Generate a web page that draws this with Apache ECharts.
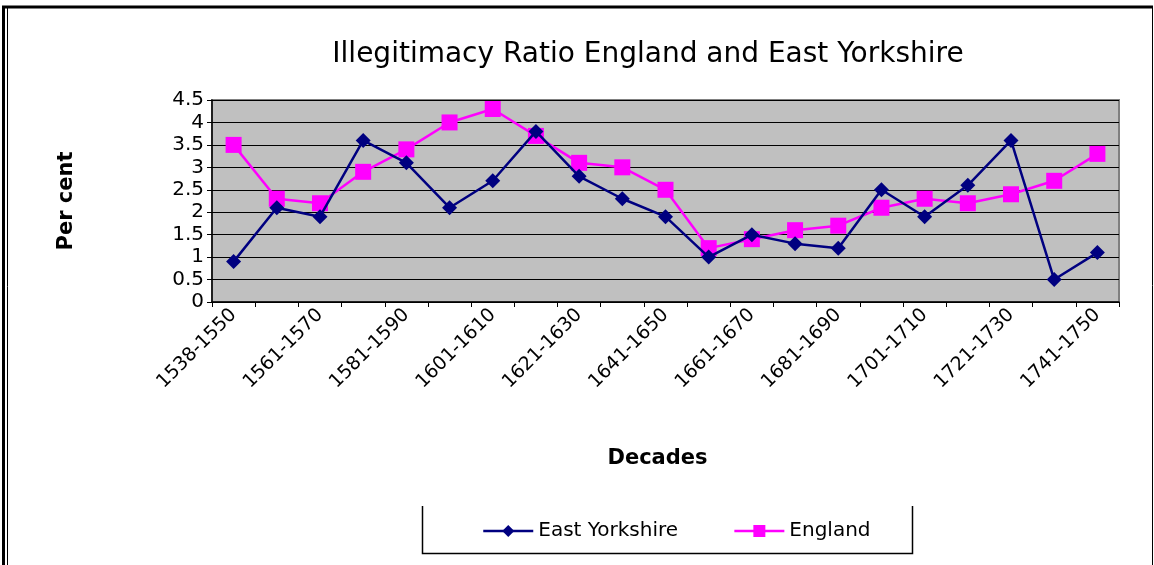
<!DOCTYPE html>
<html>
<head>
<meta charset="utf-8">
<script src="https://cdn.jsdelivr.net/npm/echarts@6/dist/echarts.min.js"></script>
<style>
  html, body { margin: 0; padding: 0; background: #fff; }
  #chart { width: 1154px; height: 565px; }
</style>
</head>
<body>
<div id="chart"></div>
<script>
const DECADES = [
    "1538-1550", "1551-1560", "1561-1570", "1571-1580", "1581-1590", "1591-1600",
    "1601-1610", "1611-1620", "1621-1630", "1631-1640", "1641-1650", "1651-1660",
    "1661-1670", "1671-1680", "1681-1690", "1691-1700", "1701-1710", "1711-1720",
    "1721-1730", "1731-1740", "1741-1750",
];
const EAST_YORKSHIRE = [0.9, 2.1, 1.9, 3.6, 3.1, 2.1, 2.7, 3.8, 2.8, 2.3, 1.9, 1.0, 1.5, 1.3, 1.2, 2.5, 1.9, 2.6, 3.6, 0.5, 1.1];
const ENGLAND = [3.5, 2.3, 2.2, 2.9, 3.4, 4.0, 4.3, 3.7, 3.1, 3.0, 2.5, 1.2, 1.4, 1.6, 1.7, 2.1, 2.3, 2.2, 2.4, 2.7, 3.3];

const FONT = "DejaVu Sans";
const chart = echarts.init(document.getElementById("chart"));

chart.setOption({
    backgroundColor: "#fff",
    animation: false,
    textStyle: { fontFamily: FONT, color: "#000" },
    title: {
        text: "Illegitimacy Ratio England and East Yorkshire",
        left: 643,
        top: 36,
        textAlign: "center",
        textStyle: { fontFamily: FONT, fontSize: 28, fontWeight: "normal", color: "#000" },
    },
    legend: {
        left: 477,
        top: 516,
        itemWidth: 50,
        itemHeight: 15,
        itemGap: 55,
        lineStyle: { width: 2.5 },
        textStyle: { fontFamily: FONT, fontSize: 20, color: "#000" },
        data: ["East Yorkshire", "England"],
    },
    grid: {
        left: 212, right: 35, top: 100, bottom: 263,
        show: true,
        backgroundColor: "#c0c0c0",
        borderColor: "#808080",
        borderWidth: 2,
    },
    xAxis: {
        type: "category",
        data: DECADES,
        boundaryGap: true,
        name: "Decades",
        nameLocation: "middle",
        nameGap: 146,
        nameTextStyle: { fontFamily: FONT, fontSize: 21, fontWeight: "bold", color: "#000", padding: [0, 16, 0, 0] },
        axisLine: { lineStyle: { color: "#000", width: 1.5 } },
        axisTick: { show: true, interval: 0, length: 5, lineStyle: { color: "#000" } },
        axisLabel: { interval: 1, rotate: 45, margin: 10, fontFamily: FONT, fontSize: 19, color: "#000" },
        splitLine: { show: false },
    },
    yAxis: {
        type: "value",
        min: 0,
        max: 4.5,
        interval: 0.5,
        name: "Per cent",
        nameLocation: "middle",
        nameGap: 135,
        nameTextStyle: { fontFamily: FONT, fontSize: 21, fontWeight: "bold", color: "#000" },
        axisLine: { show: true, lineStyle: { color: "#000", width: 1.5 } },
        axisTick: { show: true, length: 5, lineStyle: { color: "#000" } },
        axisLabel: { margin: 8, fontFamily: FONT, fontSize: 20, color: "#000" },
        splitLine: { show: true, lineStyle: { color: "#000", width: 1.2 } },
    },
    series: [
        {
            name: "East Yorkshire",
            type: "line",
            data: EAST_YORKSHIRE,
            symbol: "diamond",
            symbolSize: 15,
            color: "#000080",
            lineStyle: { color: "#000080", width: 2.5 },
            itemStyle: { color: "#000080" },
            z: 3,
        },
        {
            name: "England",
            type: "line",
            data: ENGLAND,
            symbol: "rect",
            symbolSize: 16,
            color: "#ff00ff",
            lineStyle: { color: "#ff00ff", width: 2.5 },
            itemStyle: { color: "#ff00ff" },
            z: 2,
        },
    ],
    graphic: [
        // outer frame
        { type: "line", shape: { x1: 3.5, y1: 6, x2: 3.5, y2: 565 }, style: { stroke: "#000", lineWidth: 3 } },
        { type: "line", shape: { x1: 7.5, y1: 8, x2: 7.5, y2: 565 }, style: { stroke: "#000", lineWidth: 1 } },
        { type: "line", shape: { x1: 2, y1: 7, x2: 1153, y2: 7 }, style: { stroke: "#000", lineWidth: 3 } },
        { type: "line", shape: { x1: 1152.5, y1: 6, x2: 1152.5, y2: 565 }, style: { stroke: "#000", lineWidth: 1 } },
        // legend box (open at top as in the source)
        {
            type: "polyline",
            shape: { points: [[422.5, 506], [422.5, 553.5], [912.5, 553.5], [912.5, 506]] },
            style: { stroke: "#000", lineWidth: 1.5, fill: null },
        },
    ],
});
</script>
</body>
</html>
